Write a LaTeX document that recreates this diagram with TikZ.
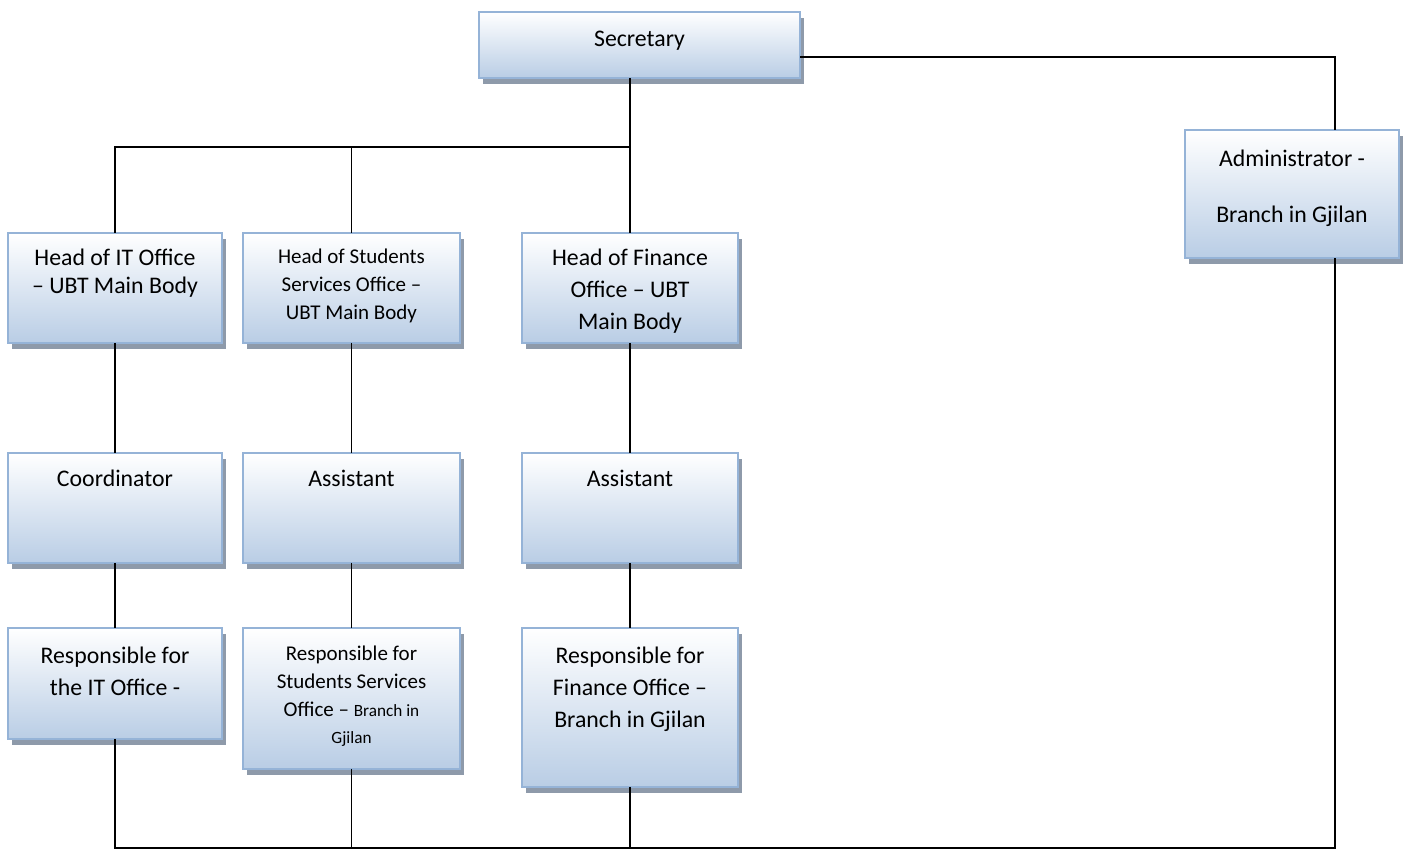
\documentclass[tikz,border=0pt]{standalone}
\usepackage{fontspec}
\setmainfont{Carlito}
\usetikzlibrary{shadows}
\definecolor{boxborder}{HTML}{95B3D7}
\definecolor{boxfill}{HTML}{B9CDE5}
\definecolor{boxshadow}{HTML}{8E9AAA}
\newcommand\orgtext[6]{\parbox[c][#1][t]{#2}{\centering\fontsize{#4}{#5}\selectfont\rule{0pt}{#3}#6}}
\newcommand\smalltxt[1]{{\fontsize{8.6}{13.5}\selectfont #1}}
\tikzset{
  orgbox/.style={draw=boxborder, line width=1pt, top color=white, bottom color=boxfill,
    inner sep=0pt, outer sep=0pt, anchor=north west,
    drop shadow={shadow xshift=2pt, shadow yshift=-3pt, fill=boxshadow, opacity=1}},
  link/.style={draw=black, line width=0.9pt}
}
\begin{document}
\begin{tikzpicture}[x=0.5pt, y=-0.5pt]
\useasboundingbox (0,0) rectangle (1408,849);
% boxes
\node[orgbox] (sec) at (479,12) {\orgtext{33pt}{160.5pt}{17.5pt}{11.9}{14}{Secretary}};
\node[orgbox] (hit) at (8,233) {\orgtext{55pt}{107pt}{16.5pt}{11.9}{14}{Head of IT Office\\– UBT Main Body}};
\node[orgbox] (hss) at (243,233) {\orgtext{55pt}{108.5pt}{15.5pt}{10.5}{14}{Head of Students\\Services Office –\\UBT Main Body}};
\node[orgbox] (hfi) at (522,233) {\orgtext{55pt}{108pt}{16.5pt}{11.9}{16}{Head of Finance\\Office – UBT\\Main Body}};
\node[orgbox] (adm) at (1185,130) {\orgtext{64pt}{107pt}{18.5pt}{11.9}{28}{Administrator -\\Branch in Gjilan}};
\node[orgbox] (coo) at (8,453) {\orgtext{55pt}{107pt}{17pt}{11.9}{14}{Coordinator}};
\node[orgbox] (as1) at (243,453) {\orgtext{55pt}{108.5pt}{17pt}{11.9}{14}{Assistant}};
\node[orgbox] (as2) at (522,453) {\orgtext{55pt}{108pt}{17pt}{11.9}{14}{Assistant}};
\node[orgbox] (rit) at (8,628) {\orgtext{55.5pt}{107pt}{17.5pt}{11.9}{16}{Responsible for\\the IT Office -}};
\node[orgbox] (rss) at (243,628) {\orgtext{70.5pt}{108.5pt}{16.5pt}{10.5}{13.75}{Responsible for\\Students Services\\Office – \smalltxt{Branch in}\\\smalltxt{Gjilan}}};
\node[orgbox] (rfi) at (522,628) {\orgtext{79.5pt}{108pt}{17.5pt}{11.9}{16}{Responsible for\\Finance Office –\\Branch in Gjilan}};
% helper coordinates
\coordinate (jn) at (0,147);
\coordinate (admX) at (1335,57);
\coordinate (bot) at (0,848);
% connectors
\draw[link] (hfi.north) -- (hfi.north |- sec.south);
\draw[link] (hit.north) -- (hit.north |- jn) -- (hfi.north |- jn);
\draw[link] (hss.north) -- (hss.north |- jn);
\draw[link] (sec.east |- admX) -- (admX) -- (admX |- adm.north);
\draw[link] (hit.south) -- (coo.north);
\draw[link] (coo.south) -- (rit.north);
\draw[link] (hss.south) -- (as1.north);
\draw[link] (as1.south) -- (rss.north);
\draw[link] (hfi.south) -- (as2.north);
\draw[link] (as2.south) -- (rfi.north);
\draw[link] (rit.south) -- (rit.south |- bot) -- (admX |- bot) -- (admX |- adm.south);
\draw[link] (rss.south) -- (rss.south |- bot);
\draw[link] (rfi.south) -- (rfi.south |- bot);
\end{tikzpicture}
\end{document}
